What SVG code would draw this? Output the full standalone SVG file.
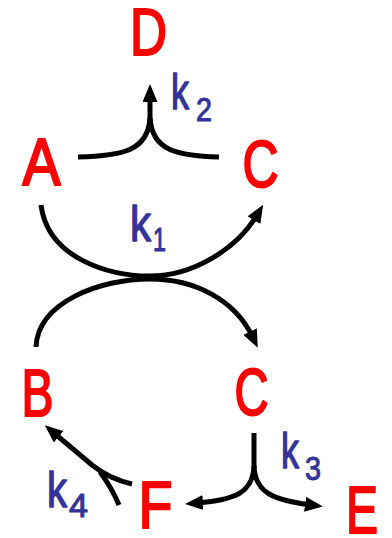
<svg xmlns="http://www.w3.org/2000/svg" width="392" height="538" viewBox="0 0 392 538">
  <style>
    .sp { font-family: "Liberation Sans", Arial, sans-serif; font-size: 66px; fill: #ff0000; stroke: #ff0000; stroke-width: 2.2; stroke-linejoin: round; text-anchor: middle; }
    .k { font-family: "Liberation Sans", Arial, sans-serif; font-size: 50px; fill: #333399; stroke: #333399; stroke-width: 1.4; stroke-linejoin: round; }
    .sub { font-family: "Liberation Sans", Arial, sans-serif; font-size: 33px; fill: #333399; stroke: #333399; stroke-width: 1; stroke-linejoin: round; }
    .ln { fill: none; stroke: #000; stroke-width: 5; stroke-linecap: butt; stroke-linejoin: round; }
    .arr { marker-end: url(#ah); }
  </style>
  <defs>
    <marker id="ah" viewBox="0 -7.5 18 15" markerWidth="18" markerHeight="15" refX="6" refY="0" orient="auto" markerUnits="userSpaceOnUse">
      <path d="M0,-7.5 L18,0 L0,7.5 Z" fill="#000"/>
    </marker>
  </defs>
  <rect width="392" height="538" fill="#fff"/>

  <g id="connectors">
    <path class="ln" d="M78,157 C122,156 148,151 150,118"/>
    <path class="ln" d="M219,157 C178,156 152,151 150,118"/>
    <path class="ln arr" d="M150,120 L150,96"/>
    <path class="ln arr" d="M41,205 C48,260 112,276 150,276 C192,276 236,250 257,215"/>
    <path class="ln arr" d="M36,347 C38,302 100,279 150,279 C195,279 235,300 252.6,337"/>
    <path class="ln" d="M254,433 L254,468"/>
    <path class="ln arr" d="M254,466 C253,492 236,500 197,503"/>
    <path class="ln arr" d="M254,466 C255,492 272,500 311,505"/>
    <path class="ln arr" d="M132,484 C114,480 102,473 92,465 L54,433"/>
    <path class="ln" d="M119,505 C114,493 109,484 100,472"/>
  </g>

  <g id="labels">
    <g id="k2"><text class="k" x="171" y="109" textLength="18" lengthAdjust="spacingAndGlyphs">k</text><text class="sub" x="196" y="121" textLength="16" lengthAdjust="spacingAndGlyphs">2</text></g>
    <g id="k1"><text class="k" x="130" y="241" textLength="21" lengthAdjust="spacingAndGlyphs">k</text><text class="sub" x="153" y="251" textLength="13" lengthAdjust="spacingAndGlyphs">1</text></g>
    <g id="k3"><text class="k" x="281" y="468" textLength="18" lengthAdjust="spacingAndGlyphs">k</text><text class="sub" x="305" y="480" textLength="16" lengthAdjust="spacingAndGlyphs">3</text></g>
    <g id="k4"><text class="k" x="47" y="507" textLength="20" lengthAdjust="spacingAndGlyphs">k</text><text class="sub" x="69" y="517" textLength="19" lengthAdjust="spacingAndGlyphs">4</text></g>
  </g>

  <g id="D"><text class="sp" x="148.5" y="55" textLength="37" lengthAdjust="spacingAndGlyphs">D</text></g>
  <g id="A"><text class="sp" x="41.5" y="185" textLength="38" lengthAdjust="spacingAndGlyphs">A</text></g>
  <g id="C_top"><text class="sp" x="260.5" y="187" textLength="36" lengthAdjust="spacingAndGlyphs">C</text></g>
  <g id="B"><text class="sp" x="37.5" y="416" textLength="32" lengthAdjust="spacingAndGlyphs">B</text></g>
  <g id="C_bottom"><text class="sp" x="251.5" y="415" textLength="34" lengthAdjust="spacingAndGlyphs">C</text></g>
  <g id="F"><text class="sp" x="155.5" y="528" textLength="34" lengthAdjust="spacingAndGlyphs">F</text></g>
  <g id="E"><text class="sp" x="362" y="533" textLength="32" lengthAdjust="spacingAndGlyphs">E</text></g>
</svg>
